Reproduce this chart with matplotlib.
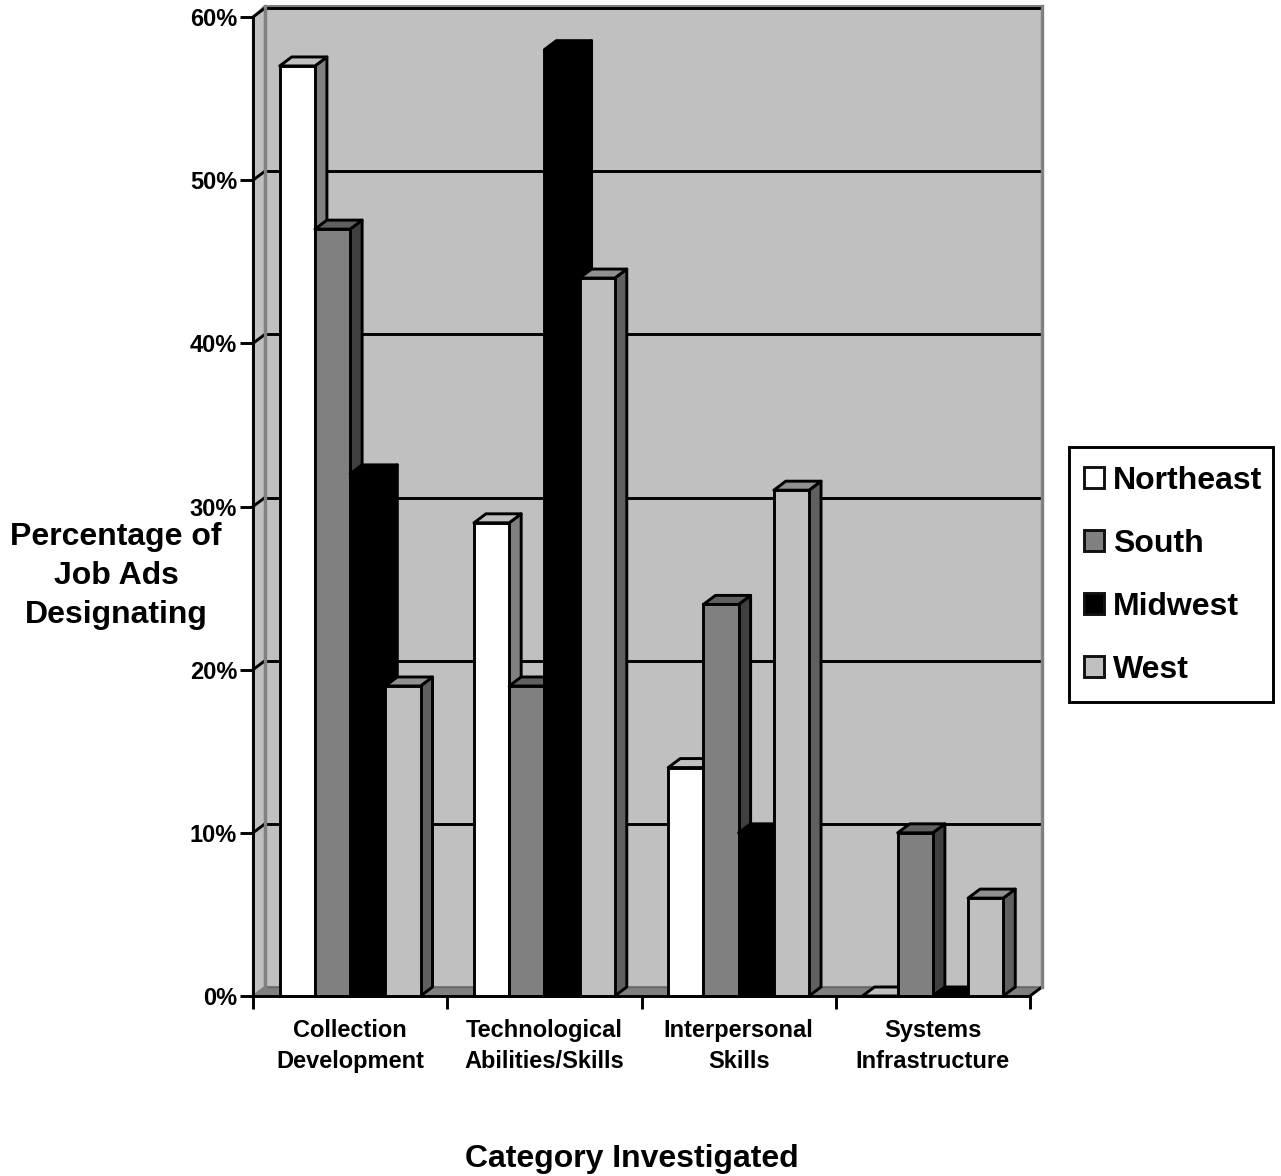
import matplotlib
matplotlib.use("Agg")
import matplotlib.pyplot as plt
from matplotlib.patches import Patch, Rectangle

plt.rcParams['font.family'] = ['Liberation Sans', 'DejaVu Sans']
plt.rcParams['font.weight'] = 'bold'

categories = ["Collection\nDevelopment", "Technological\nAbilities/Skills",
              "Interpersonal\nSkills", "Systems\nInfrastructure"]
series_names = ["Northeast", "South", "Midwest", "West"]
northeast = [57, 29, 14, 0]
south = [47, 19, 24, 10]
midwest = [32, 58, 10, 0]
west = [19, 44, 31, 6]
y_ticks = [0, 10, 20, 30, 40, 50, 60]
y_tick_labels = ["0%", "10%", "20%", "30%", "40%", "50%", "60%"]

series_values = [northeast, south, midwest, west]
front_colors = ["#FFFFFF", "#808080", "#000000", "#C0C0C0"]
top_colors = ["#C0C0C0", "#606060", "#000000", "#909090"]
side_colors = ["#808080", "#404040", "#000000", "#606060"]

W, H = 1281, 1176
fig = plt.figure(figsize=(W / 100, H / 100), dpi=100, facecolor="white")
L, R, T, B = 253, 1030, 17, 996
ax = fig.add_axes([L / W, (H - B) / H, (R - L) / W, (B - T) / H])
ax.set_xlim(0, 4)
ax.set_ylim(0, 60)

# oblique depth, in data units
dx = 12 / ((R - L) / 4)
dy = 9 / ((B - T) / 60)
bar_w = 35.2 / ((R - L) / 4)
LW = 2.1
WALL = "#C0C0C0"
EDGE = "#808080"
top_gap = 2 / ((B - T) / 60)

# walls and floor
ax.fill([dx, 4 + dx, 4 + dx, dx], [dy, dy, 60 + dy + top_gap, 60 + dy + top_gap], fc=WALL, ec=EDGE, lw=2.2,
        clip_on=False, zorder=1, joinstyle="miter")
ax.fill([0, dx, dx, 0], [0, dy, 60 + dy + top_gap, 60], fc=WALL, ec=EDGE, lw=1.6,
        clip_on=False, zorder=1, joinstyle="miter")
ax.fill([0, 4, 4 + dx, dx], [0, 0, dy, dy], fc="#808080", ec="#808080", lw=1,
        clip_on=False, zorder=1)

# gridlines on back wall and side wall
for v in y_ticks[1:]:
    ax.plot([dx, 4 + dx], [v + dy, v + dy], color="black", lw=LW, clip_on=False, zorder=2,
            solid_capstyle="butt")
    ax.plot([0, dx], [v, v + dy], color="black", lw=LW, clip_on=False, zorder=2)
ax.plot([dx, dx], [dy, 60 + dy + top_gap], color=EDGE, lw=2.4, clip_on=False, zorder=2.5)
ax.plot([4 + dx, 4 + dx], [dy, 60 + dy + top_gap], color=EDGE, lw=2.4, clip_on=False, zorder=2.5)
ax.plot([dx, 4 + dx], [dy, dy], color="#666666", lw=1, clip_on=False, zorder=2)
ax.plot([4, 4 + dx], [0, dy], color="black", lw=LW, clip_on=False, zorder=2)

# bars, left to right so each covers the previous side face
z = 3
for c in range(len(categories)):
    for s, vals in enumerate(series_values):
        v = vals[c]
        x0 = c + 0.5 + (s - 2) * bar_w
        x1 = x0 + bar_w
        ax.fill([x1, x1 + dx, x1 + dx, x1], [0, dy, v + dy, v], fc=side_colors[s], ec="black",
                lw=LW, clip_on=False, zorder=z, joinstyle="round")
        ax.fill([x0, x1, x1 + dx, x0 + dx], [v, v, v + dy, v + dy], fc=top_colors[s], ec="black",
                lw=LW, clip_on=False, zorder=z, joinstyle="round")
        ax.bar(x0, v, width=bar_w, align="edge", color=front_colors[s], edgecolor="black",
               linewidth=LW, clip_on=False, zorder=z)
        z += 0.01

# axes
for sp in ("top", "right"):
    ax.spines[sp].set_visible(False)
for sp in ("left", "bottom"):
    ax.spines[sp].set_linewidth(LW)
    ax.spines[sp].set_zorder(20)

ax.set_yticks(y_ticks)
ax.set_yticklabels(y_tick_labels, fontsize=17, fontweight="bold")
ax.tick_params(axis="y", length=9.4, width=LW, pad=2)
ax.set_xticks(range(5))
ax.set_xticklabels([])
ax.tick_params(axis="x", which="major", length=9.4, width=LW)
ax.set_xticks([i + 0.5 for i in range(4)], minor=True)
ax.set_xticklabels(categories, minor=True, fontsize=17, fontweight="bold", linespacing=1.42)
ax.tick_params(axis="x", which="minor", length=0, pad=16.7)

ax.set_ylabel("Percentage of\nJob Ads\nDesignating", rotation=0, fontsize=23, fontweight="bold",
              ha="center", va="center", linespacing=1.37)
ax.yaxis.set_label_coords((116 - L) / (R - L), (B - 576) / (B - T))
ax.set_xlabel("Category Investigated", fontsize=23, fontweight="bold", ha="center", va="center")
ax.xaxis.set_label_coords((632 - L) / (R - L), (B - 1159) / (B - T))

# legend frame and entries
fig.add_artist(Rectangle((1069 / W, (H - 702) / H), (1273 - 1069) / W, (702 - 447) / H,
                         transform=fig.transFigure, fc="white", ec="black", lw=LW, zorder=5))
handles = [Patch(facecolor=fc, edgecolor="#111111", linewidth=LW) for fc in front_colors]
leg = fig.legend(handles, series_names, loc="upper left", frameon=False,
                 bbox_to_anchor=(1084 / W, (H - 466) / H), borderaxespad=0, borderpad=0,
                 handlelength=0.62, handleheight=0.62, handletextpad=0.28,
                 labelspacing=1.03, prop={"size": 23, "weight": "bold"})
leg.set_zorder(6)

fig.savefig("out.png", dpi=100)
